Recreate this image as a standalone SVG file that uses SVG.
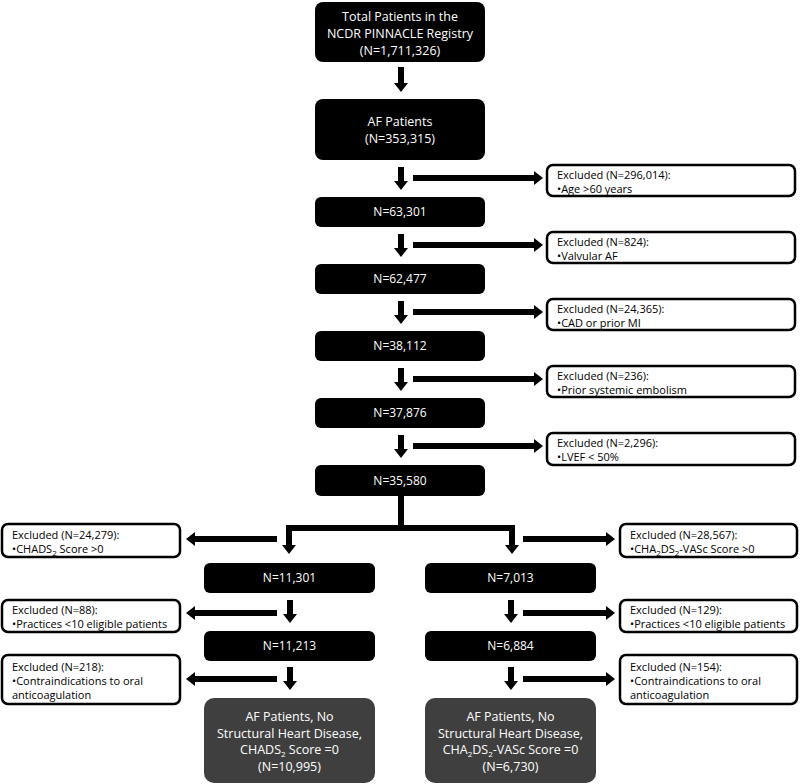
<svg xmlns="http://www.w3.org/2000/svg" width="800" height="784" viewBox="0 0 800 784">
<defs>
<marker id="ah" markerUnits="userSpaceOnUse" markerWidth="9" markerHeight="14" refX="0" refY="7" orient="auto-start-reverse">
<path d="M0,0 L9,7 L0,14 Z" fill="#000"/>
</marker>
<style>
.blk{fill:#000}
.gry{fill:#3f3f3f}
.exc{fill:#fff;stroke:#000;stroke-width:2.5}
.t{font-family:"Open Sans","Noto Sans",sans-serif;fill:#fff;text-anchor:middle}
.big{font-size:12.5px}
.sm{font-size:12px}
.e{font-family:"Open Sans","Noto Sans",sans-serif;fill:#000;font-size:11px}
.c{fill:none;stroke:#000;stroke-width:6;marker-end:url(#ah)}
.cn{fill:none;stroke:#000;stroke-width:6;stroke-linejoin:miter}
.both{marker-start:url(#ah)}
.sub{font-size:8px}
</style>
</defs>
<rect width="800" height="784" fill="#fff"/>

<g id="n-total"><rect class="blk" x="315" y="2" width="170" height="60" rx="8"/>
<text class="t big" x="400" y="20.5">Total Patients in the</text>
<text class="t big" x="400" y="37.5">NCDR PINNACLE Registry</text>
<text class="t big" x="400" y="54.5">(N=1,711,326)</text></g>

<g id="n-af"><rect class="blk" x="315" y="99" width="170" height="61" rx="8"/>
<text class="t big" x="400" y="126">AF Patients</text>
<text class="t big" x="400" y="143">(N=353,315)</text></g>

<g id="n-63301"><rect class="blk" x="315" y="197" width="170" height="30" rx="6"/><text class="t sm" x="400" y="216">N=63,301</text></g>
<g id="n-62477"><rect class="blk" x="315" y="264" width="170" height="30" rx="6"/><text class="t sm" x="400" y="283">N=62,477</text></g>
<g id="n-38112"><rect class="blk" x="315" y="331" width="170" height="30" rx="6"/><text class="t sm" x="400" y="350">N=38,112</text></g>
<g id="n-37876"><rect class="blk" x="315" y="398" width="170" height="30" rx="6"/><text class="t sm" x="400" y="417">N=37,876</text></g>
<g id="n-35580"><rect class="blk" x="315" y="465" width="170" height="31" rx="6"/><text class="t sm" x="400" y="485">N=35,580</text></g>

<g id="x1"><rect class="exc" x="547" y="165" width="248" height="31" rx="6"/>
<text class="e" x="557" y="179">Excluded (N=296,014):</text><text class="e" x="557" y="193">•Age &gt;60 years</text></g>
<g id="x2"><rect class="exc" x="547" y="232" width="248" height="31" rx="6"/>
<text class="e" x="557" y="246">Excluded (N=824):</text><text class="e" x="557" y="260">•Valvular AF</text></g>
<g id="x3"><rect class="exc" x="547" y="299" width="248" height="31" rx="6"/>
<text class="e" x="557" y="313">Excluded (N=24,365):</text><text class="e" x="557" y="327">•CAD or prior MI</text></g>
<g id="x4"><rect class="exc" x="547" y="366" width="248" height="31" rx="6"/>
<text class="e" x="557" y="380">Excluded (N=236):</text><text class="e" x="557" y="394">•Prior systemic embolism</text></g>
<g id="x5"><rect class="exc" x="547" y="433" width="248" height="32" rx="6"/>
<text class="e" x="557" y="447">Excluded (N=2,296):</text><text class="e" x="557" y="461">•LVEF &lt; 50%</text></g>

<g id="n-11301"><rect class="blk" x="204" y="563" width="171" height="30" rx="6"/><text class="t sm" x="289.5" y="582">N=11,301</text></g>
<g id="n-7013"><rect class="blk" x="425" y="563" width="171" height="30" rx="6"/><text class="t sm" x="510.5" y="582">N=7,013</text></g>
<g id="n-11213"><rect class="blk" x="204" y="631" width="171" height="30" rx="6"/><text class="t sm" x="289.5" y="650">N=11,213</text></g>
<g id="n-6884"><rect class="blk" x="425" y="631" width="171" height="30" rx="6"/><text class="t sm" x="510.5" y="650">N=6,884</text></g>

<g id="n-final-l"><rect class="gry" x="204" y="698" width="171" height="85" rx="10"/>
<text class="t big" x="289.5" y="721">AF Patients, No</text>
<text class="t big" x="289.5" y="737.5">Structural Heart Disease,</text>
<text class="t big" x="289.5" y="754">CHADS<tspan class="sub" dy="3">2</tspan><tspan dy="-3"> Score =0</tspan></text>
<text class="t big" x="289.5" y="771">(N=10,995)</text></g>
<g id="n-final-r"><rect class="gry" x="425" y="698" width="171" height="85" rx="10"/>
<text class="t big" x="510.5" y="721">AF Patients, No</text>
<text class="t big" x="510.5" y="737.5">Structural Heart Disease,</text>
<text class="t big" x="510.5" y="754">CHA<tspan class="sub" dy="3">2</tspan><tspan dy="-3">DS</tspan><tspan class="sub" dy="3">2</tspan><tspan dy="-3">-VASc Score =0</tspan></text>
<text class="t big" x="510.5" y="771">(N=6,730)</text></g>

<g id="xl1"><rect class="exc" x="2" y="524" width="178" height="33" rx="6"/>
<text class="e" x="12" y="539">Excluded (N=24,279):</text><text class="e" x="12" y="553">•CHADS<tspan class="sub" dy="2.5">2</tspan><tspan dy="-2.5"> Score &gt;0</tspan></text></g>
<g id="xr1"><rect class="exc" x="620" y="524" width="177" height="33" rx="6"/>
<text class="e" x="630" y="539">Excluded (N=28,567):</text><text class="e" x="630" y="553">•CHA<tspan class="sub" dy="2.5">2</tspan><tspan dy="-2.5">DS</tspan><tspan class="sub" dy="2.5">2</tspan><tspan dy="-2.5">-VASc Score &gt;0</tspan></text></g>
<g id="xl2"><rect class="exc" x="2" y="600" width="178" height="32" rx="6"/>
<text class="e" x="12" y="614">Excluded (N=88):</text><text class="e" x="12" y="628">•Practices &lt;10 eligible patients</text></g>
<g id="xr2"><rect class="exc" x="620" y="600" width="177" height="32" rx="6"/>
<text class="e" x="630" y="614">Excluded (N=129):</text><text class="e" x="630" y="628">•Practices &lt;10 eligible patients</text></g>
<g id="xl3"><rect class="exc" x="2" y="655" width="178" height="49" rx="6"/>
<text class="e" x="12" y="671">Excluded (N=218):</text><text class="e" x="12" y="685">•Contraindications to oral</text><text class="e" x="12" y="699">anticoagulation</text></g>
<g id="xr3"><rect class="exc" x="620" y="655" width="177" height="49" rx="6"/>
<text class="e" x="630" y="671">Excluded (N=154):</text><text class="e" x="630" y="685">•Contraindications to oral</text><text class="e" x="630" y="699">anticoagulation</text></g>

<g id="connectors">
<path class="c" d="M401,67 V83"/>
<path class="c" d="M401,167 V181"/><path class="c" d="M413,178 H534"/>
<path class="c" d="M401,234 V248"/><path class="c" d="M413,245 H534"/>
<path class="c" d="M401,301 V315"/><path class="c" d="M413,312 H534"/>
<path class="c" d="M401,368 V382"/><path class="c" d="M413,379 H534"/>
<path class="c" d="M401,435 V449"/><path class="c" d="M413,446 H534"/>
<path class="cn" d="M401,496 V528"/>
<path class="c both" d="M289,545 V528 H512 V545"/>
<path class="c" d="M277,539 H195"/><path class="c" d="M523,539 H606"/>
<path class="c" d="M290,600 V614"/><path class="c" d="M511,600 V614"/>
<path class="c" d="M277,613 H195"/><path class="c" d="M523,613 H606"/>
<path class="c" d="M290,667 V681"/><path class="c" d="M511,667 V681"/>
<path class="c" d="M277,679 H195"/><path class="c" d="M523,679 H606"/>
</g>
</svg>
